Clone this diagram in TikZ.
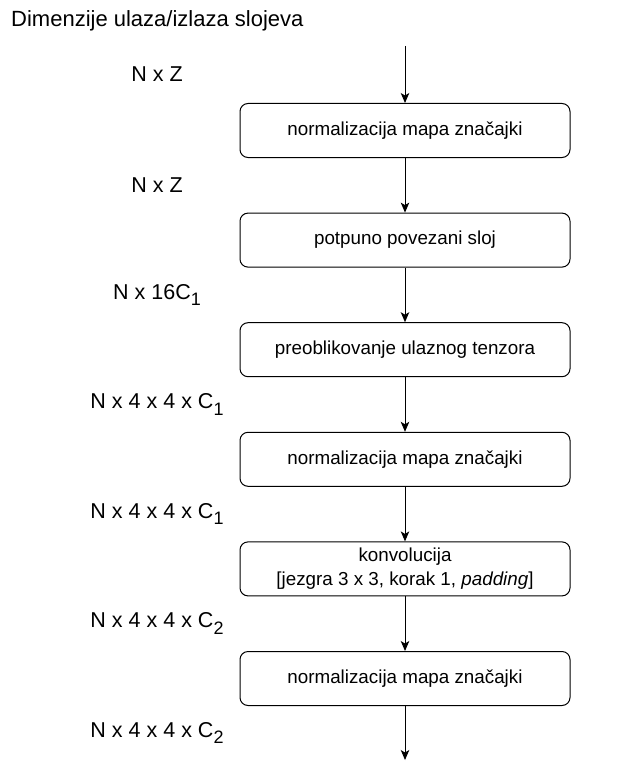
\documentclass[tikz,border=0pt]{standalone}
\usepackage{fontspec}
\setmainfont{Liberation Sans}
\usetikzlibrary{positioning, arrows.meta}
\newcommand{\lsub}[1]{\raisebox{-6.5pt}{\fontsize{18}{18}\selectfont #1}}
\tikzset{
>={Stealth[length=10pt, width=8.5pt, inset=2.5pt]}, % filled arrow heads
node distance=54.6pt, % gap between two layers
layer/.style={draw=black, line width=1pt, rounded corners=8pt, minimum width=330pt, minimum height=54pt, align=center, inner sep=2pt, font=\fontsize{18.8}{24}\selectfont},
dim/.style={inner sep=0pt, font=\fontsize{21.5}{26}\selectfont},
flow/.style={draw, ->, line width=1pt}
}

\begin{document}
\begin{tikzpicture}
      \useasboundingbox (0,0) rectangle (625pt,-773pt);
      \node[dim, anchor=base west, font=\fontsize{22}{26}\selectfont] (title) at (11pt,-27pt) {Dimenzije ulaza/izlaza slojeva};

      \coordinate (in) at (405pt,-46pt);
      \node[layer, below=57pt of in] (norm1) {normalizacija mapa značajki};
      \node[layer, below=of norm1] (fc) {potpuno povezani sloj};
      \node[layer, below=of fc] (reshape) {preoblikovanje ulaznog tenzora};
      \node[layer, below=of reshape] (norm2) {normalizacija mapa značajki};
      \node[layer, below=of norm2] (conv) {konvolucija\\{[}jezgra 3 x 3, korak 1, \textit{padding}{]}};
      \node[layer, below=of conv] (norm3) {normalizacija mapa značajki};
      \coordinate[below=54pt of norm3] (out);

      \path (in) edge[flow] node[dim, xshift=-248pt]{N x Z} (norm1)
      (norm1) edge[flow] node[dim, xshift=-248pt]{N x Z} (fc)
      (fc) edge[flow] node[dim, xshift=-248pt]{N x 16C\lsub{1}} (reshape)
      (reshape) edge[flow] node[dim, xshift=-248pt]{N x 4 x 4 x C\lsub{1}} (norm2)
      (norm2) edge[flow] node[dim, xshift=-248pt]{N x 4 x 4 x C\lsub{1}} (conv)
      (conv) edge[flow] node[dim, xshift=-248pt]{N x 4 x 4 x C\lsub{2}} (norm3)
      (norm3) edge[flow] node[dim, xshift=-248pt]{N x 4 x 4 x C\lsub{2}} (out);
    \end{tikzpicture}
\end{document}
